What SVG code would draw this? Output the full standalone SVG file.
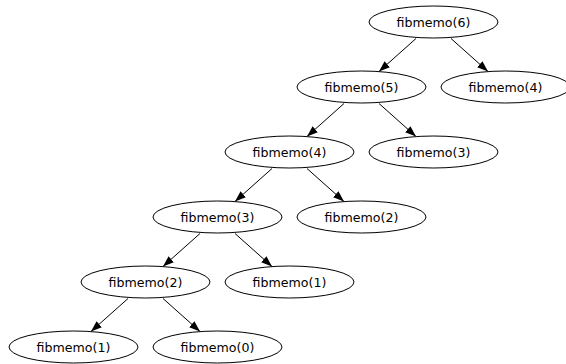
<svg xmlns="http://www.w3.org/2000/svg" width="566" height="364" viewBox="0 0 566 364">
<style>
.n ellipse{fill:#fff;stroke:#000;stroke-width:1}
.n text{font-family:"DejaVu Sans",Verdana,sans-serif;font-size:12.6px;text-anchor:middle;fill:#000}
.e line{stroke:#000;stroke-width:1;marker-end:url(#ah)}
</style>
<defs>
<marker id="ah" markerUnits="userSpaceOnUse" markerWidth="11" markerHeight="9" refX="11" refY="4.5" orient="auto">
<path d="M0,0.5 L11,4.5 L0,8.5 z" fill="#000"/>
</marker>
</defs>
<rect width="566" height="364" fill="#fff"/>
<g id="edges" class="e">
<line x1="416" y1="38.5" x2="379" y2="71.5"/>
<line x1="451" y1="38.5" x2="488" y2="71.5"/>
<line x1="344" y1="103.5" x2="307" y2="136.5"/>
<line x1="379" y1="103.5" x2="416" y2="136.5"/>
<line x1="272" y1="168.5" x2="235" y2="201.5"/>
<line x1="307" y1="168.5" x2="344" y2="201.5"/>
<line x1="200" y1="233.5" x2="163" y2="266.5"/>
<line x1="235" y1="233.5" x2="272" y2="266.5"/>
<line x1="128" y1="298.5" x2="91" y2="331.5"/>
<line x1="163" y1="298.5" x2="200" y2="331.5"/>
</g>
<g id="fib6" class="n"><ellipse cx="433.5" cy="22" rx="64.5" ry="16"/><text x="433.5" y="26.5">fibmemo(6)</text></g>
<g id="fib5" class="n"><ellipse cx="361.5" cy="87" rx="64.5" ry="16"/><text x="361.5" y="91.5">fibmemo(5)</text></g>
<g id="fib4r" class="n"><ellipse cx="505.5" cy="87" rx="64.5" ry="16"/><text x="505.5" y="91.5">fibmemo(4)</text></g>
<g id="fib4" class="n"><ellipse cx="289.5" cy="152" rx="64.5" ry="16"/><text x="289.5" y="156.5">fibmemo(4)</text></g>
<g id="fib3r" class="n"><ellipse cx="433.5" cy="152" rx="64.5" ry="16"/><text x="433.5" y="156.5">fibmemo(3)</text></g>
<g id="fib3" class="n"><ellipse cx="217.5" cy="217" rx="64.5" ry="16"/><text x="217.5" y="221.5">fibmemo(3)</text></g>
<g id="fib2r" class="n"><ellipse cx="361.5" cy="217" rx="64.5" ry="16"/><text x="361.5" y="221.5">fibmemo(2)</text></g>
<g id="fib2" class="n"><ellipse cx="145.5" cy="282" rx="64.5" ry="16"/><text x="145.5" y="286.5">fibmemo(2)</text></g>
<g id="fib1r" class="n"><ellipse cx="289.5" cy="282" rx="64.5" ry="16"/><text x="289.5" y="286.5">fibmemo(1)</text></g>
<g id="fib1" class="n"><ellipse cx="73.5" cy="347" rx="64.5" ry="16"/><text x="73.5" y="351.5">fibmemo(1)</text></g>
<g id="fib0" class="n"><ellipse cx="217.5" cy="347" rx="64.5" ry="16"/><text x="217.5" y="351.5">fibmemo(0)</text></g>
</svg>
